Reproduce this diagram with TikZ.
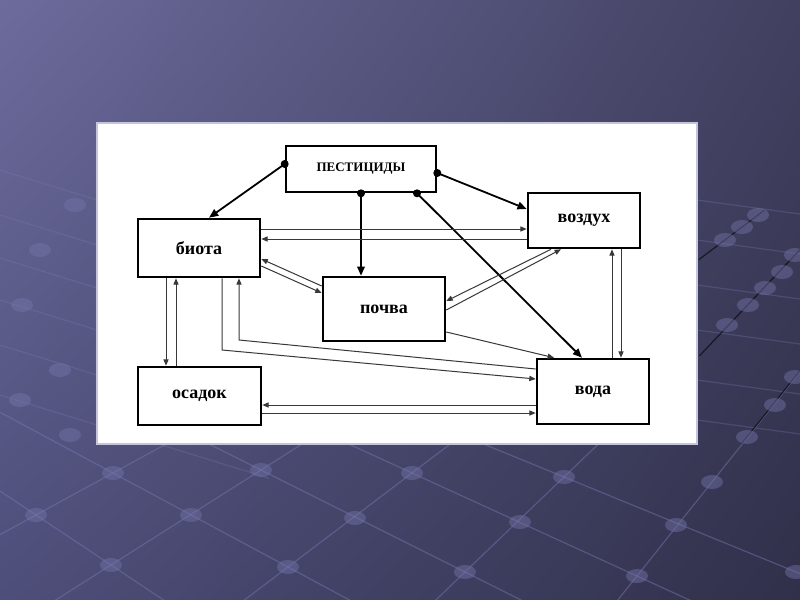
\documentclass[tikz,border=0pt]{standalone}
\usepackage{fontspec}
\setmainfont{Liberation Serif}
\usetikzlibrary{arrows.meta,shadings}
\definecolor{ink}{gray}{0.22}
\definecolor{slideA}{HTML}{6C6B9C}
\definecolor{slideB}{HTML}{414060}
\definecolor{slideC}{HTML}{4E4E7A}
\definecolor{slideD}{HTML}{30304A}
\definecolor{latline}{HTML}{7A7AB4}
\definecolor{latdot}{HTML}{7474AA}
\definecolor{rim}{HTML}{C4C4DC}

\tikzset{
  box/.style={draw=black, line width=1.3pt, fill=white, inner sep=0pt,
    font=\fontsize{9}{10}\selectfont\bfseries},
  flow/.style={draw=ink, line width=0.5pt, -{Triangle[length=3.2pt,width=2.6pt]}},
  feed/.style={draw=black, line width=0.9pt, -{Triangle[length=4.6pt,width=3.8pt]}},
  src/.style={circle, fill=black, inner sep=0pt, minimum size=4pt},
  lat/.style={draw=latline, opacity=0.45, line width=0.6pt, shorten <=-90pt, shorten >=-90pt},
  latdark/.style={draw=black!70!slideD, opacity=0.8, line width=0.6pt, shorten <=-4pt, shorten >=-4pt},
}

\begin{document}
\begin{tikzpicture}[x=0.5pt, y=-0.5pt, line width=0.5pt]
  \useasboundingbox (0,0) rectangle (800,600);
  % slide background
  \shade[upper left=slideA, upper right=slideB, lower left=slideC, lower right=slideD]
    (0,0) rectangle (800,600);
  \begin{scope}
    \clip (0,0) rectangle (800,600);
    % floor lattice
    \draw[lat] (36,515) -- (113,473);
    \draw[lat] (111,565) -- (261,470);
    \draw[lat] (288,567) -- (412,473);
    \draw[lat] (465,572) -- (564,477);
    \draw[lat] (637,576) -- (712,482);
    \draw[lat] (36,515) -- (111,565);
    \draw[lat] (113,473) -- (288,567);
    \draw[lat] (261,470) -- (465,572);
    \draw[lat] (412,473) -- (637,576);
    \draw[lat] (564,477) -- (796,572);
    \foreach \y in {170,215,258,300,345,395} \draw[lat, opacity=0.3] (0,\y) -- (97,\y+30);
    \foreach \y in {200,240,285,330,380,420} \draw[lat, opacity=0.3] (697,\y) -- (800,\y+14);
    \draw[latdark] (705,255) -- (758,215);
    \draw[latdark] (705,350) -- (795,255);
    \draw[latdark] (747,437) -- (795,377);
    \foreach \p in {(113,473),(261,470),(412,473),(564,477),(712,482),
                    (36,515),(191,515),(355,518),(520,522),(676,525),
                    (111,565),(288,567),(465,572),(637,576),(796,572),
                    (758,215),(742,227),(725,240),(795,255),(782,272),(765,288),
                    (748,305),(727,325),(795,377),(775,405),(747,437),
                    (22,305),(60,370),(20,400),(70,435),(40,250),(75,205)}
      \fill[latdot, opacity=0.45] \p ellipse (11 and 7);
  \end{scope}
  % white panel
  \fill[white, draw=rim, line width=0.8pt] (97,123) rectangle (697,444);

  % compartments
  \node[box, minimum width=75pt, minimum height=23pt, font=\fontsize{6.5}{7}\selectfont\bfseries]
    (pest) at (361,169) {ПЕСТИЦИДЫ};
  \node[box, minimum width=61pt, minimum height=29pt] (bio) at (199,248) {биота};
  \node[box, minimum width=56pt, minimum height=27.5pt] (air) at (584,220.5) {воздух};
  \node[box, minimum width=61pt, minimum height=32pt] (soil) at (384,309) {почва};
  \node[box, minimum width=61.5pt, minimum height=29pt] (sed) at (199.5,396) {осадок};
  \node[box, minimum width=56pt, minimum height=32.5pt] (water) at (593,391.5) {вода};

  % pesticide inputs
  \draw[feed] (pest.west |- 0,164) node[src]{} -- (209,0 |- bio.north);
  \draw[feed] (361,0 |- pest.south) node[src]{} -- (361,0 |- soil.north);
  \draw[feed] (pest.east |- 0,173) node[src]{} -- (air.west |- 0,209);
  \draw[feed] (417,0 |- pest.south) node[src]{} -- (582,0 |- water.north);

  % exchange between compartments
  \draw[flow] (bio.east |- 0,229) -- (air.west |- 0,229);
  \draw[flow] (air.west |- 0,239) -- (bio.east |- 0,239);
  \draw[flow] (soil.west |- 0,286) -- (bio.east |- 0,259);
  \draw[flow] (bio.east |- 0,266) -- (soil.west |- 0,293);
  \draw[flow] (air.south -| 551,0) -- (soil.east |- 0,301);
  \draw[flow] (soil.east |- 0,310) -- (air.south -| 561,0);
  \draw[flow] (water.north -| 612,0) -- (air.south -| 612,0);
  \draw[flow] (air.south -| 621,0) -- (water.north -| 621,0);
  \draw[flow] (soil.east |- 0,332) -- (water.north -| 554,0);
  \draw[flow] (bio.south -| 222,0) -- (222,350) -- (water.west |- 0,379);
  \draw[flow] (water.west |- 0,369) -- (239,340) -- (bio.south -| 239,0);
  \draw[flow] (bio.south -| 166,0) -- (sed.north -| 166,0);
  \draw[flow] (sed.north -| 176,0) -- (bio.south -| 176,0);
  \draw[flow] (water.west |- 0,405) -- (sed.east |- 0,405);
  \draw[flow] (sed.east |- 0,413) -- (water.west |- 0,413);
\end{tikzpicture}
\end{document}
